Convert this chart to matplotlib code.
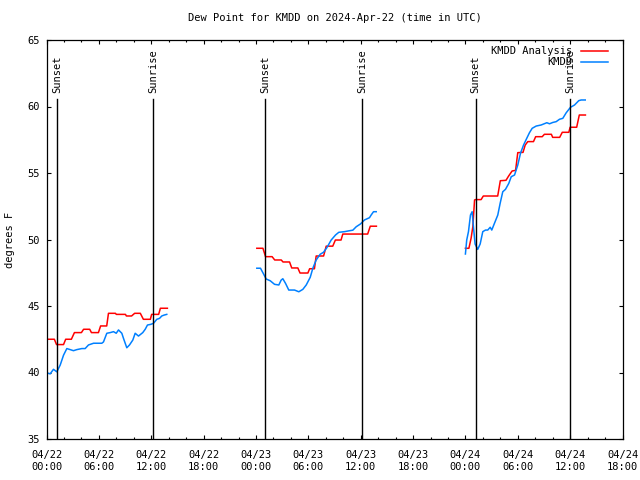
import pandas as pd
import matplotlib
matplotlib.use('Agg')
import matplotlib.pyplot as plt
import matplotlib.dates as mdates

start = pd.Timestamp('2024-04-22 00:00')

# hours after 04/22 00:00 UTC, dew point in F
red1_t = [0.1, 0.9, 1.15, 1.95, 2.2, 2.85, 3.2, 4.0, 4.25, 4.95, 5.15, 5.95, 6.2, 6.9, 7.1, 7.9,
          8.0, 9.05, 9.15, 9.75, 10.1, 10.75, 11.1, 11.9, 12.05, 12.85, 13.05, 13.85]
red1_v = [42.5, 42.5, 42.1, 42.1, 42.5, 42.5, 43.0, 43.0, 43.25, 43.25, 43.0, 43.0, 43.5, 43.5, 44.45, 44.45,
          44.37, 44.37, 44.25, 44.25, 44.45, 44.45, 44.0, 44.0, 44.37, 44.37, 44.83, 44.83]
red2_t = [24.1, 24.8, 25.1, 25.85, 26.15, 26.9, 27.1, 27.85, 28.1, 28.8, 29.05, 29.95, 30.15, 30.7,
          30.9, 31.75, 32.05, 32.8, 33.1, 33.75, 33.95, 36.8, 37.1, 37.8]
red2_v = [49.34, 49.34, 48.71, 48.71, 48.46, 48.46, 48.31, 48.31, 47.86, 47.86, 47.48, 47.48, 47.8, 47.8,
          48.76, 48.76, 49.5, 49.5, 49.96, 49.96, 50.41, 50.41, 51.0, 51.0]
red3_t = [48.0, 48.4, 48.65, 48.85, 49.05, 49.15, 49.8, 50.05, 51.7, 52.0, 52.65, 52.95, 53.35, 53.75,
          54.0, 54.6, 54.85, 55.15, 55.8, 56.05, 56.8, 57.05, 57.85, 58.0, 58.8, 59.1, 59.85, 60.0,
          60.75, 61.05, 61.75]
red3_v = [49.34, 49.34, 50.09, 50.96, 52.97, 53.0, 53.0, 53.27, 53.27, 54.42, 54.45, 54.77, 55.15, 55.2,
          56.53, 56.55, 57.1, 57.36, 57.36, 57.73, 57.73, 57.91, 57.91, 57.68, 57.68, 58.06, 58.06, 58.44,
          58.44, 59.36, 59.36]

blue1_t = [0.0, 0.42, 0.8, 1.18, 1.57, 1.95, 2.33, 2.72, 3.09, 3.47, 4.05, 4.43, 4.81, 5.39, 6.34, 6.53,
           6.91, 7.3, 7.68, 7.99, 8.25, 8.63, 8.82, 9.2, 9.51, 9.89, 10.16, 10.54, 11.03, 11.31, 11.57,
           11.95, 12.26, 12.64, 12.95, 13.21, 13.49, 13.78]
blue1_v = [39.98, 39.9, 40.24, 40.05, 40.56, 41.3, 41.8, 41.72, 41.64, 41.72, 41.8, 41.8, 42.07, 42.2,
           42.2, 42.3, 42.95, 43.0, 43.07, 42.95, 43.2, 42.95, 42.57, 41.86, 42.07, 42.44, 42.95, 42.74,
           43.0, 43.25, 43.57, 43.62, 43.7, 44.0, 44.07, 44.25, 44.32, 44.37]
blue2_t = [24.1, 24.52, 24.87, 25.17, 25.63, 26.13, 26.62, 26.89, 27.08, 27.39, 27.76, 28.42, 28.91,
           29.37, 29.76, 30.22, 30.52, 30.9, 31.36, 31.74, 32.12, 32.62, 33.12, 33.49, 34.15, 34.72,
           35.1, 35.49, 35.98, 36.44, 37.01, 37.2, 37.47, 37.78]
blue2_v = [47.84, 47.84, 47.41, 47.03, 46.9, 46.63, 46.58, 46.95, 47.05, 46.7, 46.2, 46.2, 46.07, 46.25,
           46.58, 47.16, 47.84, 48.46, 48.89, 49.04, 49.38, 49.96, 50.34, 50.54, 50.59, 50.66, 50.7,
           50.96, 51.17, 51.47, 51.64, 51.84, 52.09, 52.09]
blue3_t = [48.0, 48.15, 48.35, 48.58, 48.77, 48.92, 49.11, 49.41, 49.69, 49.99, 50.3, 50.56, 50.84,
           51.02, 51.33, 51.71, 51.98, 52.28, 52.59, 52.97, 53.25, 53.63, 54.0, 54.31, 54.66, 55.03,
           55.34, 55.65, 56.11, 56.68, 57.33, 57.64, 58.01, 58.4, 58.78, 59.16, 59.55, 60.04, 60.5,
           60.99, 61.26, 61.73]
blue3_v = [48.91, 49.96, 50.59, 51.84, 52.09, 50.96, 49.66, 49.26, 49.66, 50.59, 50.71, 50.71, 50.92,
           50.71, 51.22, 51.84, 52.72, 53.59, 53.77, 54.22, 54.72, 54.85, 55.6, 56.48, 57.1, 57.61,
           58.03, 58.36, 58.53, 58.61, 58.78, 58.7, 58.8, 58.86, 59.04, 59.11, 59.53, 59.94, 60.11,
           60.44, 60.49, 60.49]

sun_times = ['2024-04-22 01:11', '2024-04-22 12:11', '2024-04-23 01:05',
             '2024-04-23 12:10', '2024-04-24 01:10', '2024-04-24 11:58']
sun_labels = ['Sunset', 'Sunrise', 'Sunset', 'Sunrise', 'Sunset', 'Sunrise']


def to_time(hours):
    return start + pd.to_timedelta(hours, unit='h')


plt.rcParams['font.family'] = 'DejaVu Sans Mono'
plt.rcParams['font.size'] = 7

fig = plt.figure(figsize=(6.4, 4.8), dpi=100)
ax = fig.add_axes([46.5 / 640, 41 / 480, 576 / 640, 399 / 480])

# analysis (red) and observations (blue), one piece per day
red = [(red1_t, red1_v), (red2_t, red2_v), (red3_t, red3_v)]
blue = [(blue1_t, blue1_v), (blue2_t, blue2_v), (blue3_t, blue3_v)]
for i, (t, v) in enumerate(red):
    ax.plot(to_time(t), v, color='#ff0000', lw=1.1, label='KMDD Analysis' if i == 0 else None)
for i, (t, v) in enumerate(blue):
    ax.plot(to_time(t), v, color='#0080ff', lw=1.1, label='KMDD' if i == 0 else None)

# sunrise / sunset markers
for st, lab in zip(sun_times, sun_labels):
    ts = pd.Timestamp(st)
    ax.axvline(ts, ymin=0, ymax=0.852, color='black', lw=1.0)
    ax.text(ts, 0.868, lab, transform=ax.get_xaxis_transform(), rotation=90,
            ha='center', va='bottom', fontsize=7.5)

ax.set_xlim(start, pd.Timestamp('2024-04-24 18:00'))
ax.set_ylim(35, 65)
ax.set_yticks(range(35, 66, 5))
ax.xaxis.set_major_locator(mdates.HourLocator(byhour=[0, 6, 12, 18]))
ax.xaxis.set_minor_locator(mdates.HourLocator(byhour=range(0, 24, 2)))
ax.xaxis.set_major_formatter(mdates.DateFormatter('%m/%d\n%H:%M'))
ax.tick_params(which='both', direction='in', top=True, right=True, color='black', labelsize=7.5)
ax.tick_params(which='major', length=3, width=0.8)
ax.tick_params(axis='x', which='major', pad=8)
ax.tick_params(axis='y', which='major', pad=5)
ax.tick_params(which='minor', length=1.5, width=0.8)
for s in ax.spines.values():
    s.set_linewidth(0.9)

ax.set_ylabel('degrees F', labelpad=9, fontsize=7.5)
ax.set_title('Dew Point for KMDD on 2024-Apr-22 (time in UTC)', pad=14, fontsize=7.5)

ax.legend(loc='upper right', frameon=False, markerfirst=False, handlelength=2.6,
          labelspacing=0.1, borderaxespad=0.2, handletextpad=0.8, bbox_to_anchor=(0.985, 1.0),
          fontsize=7.5)

plt.savefig('out.png', dpi=100)
